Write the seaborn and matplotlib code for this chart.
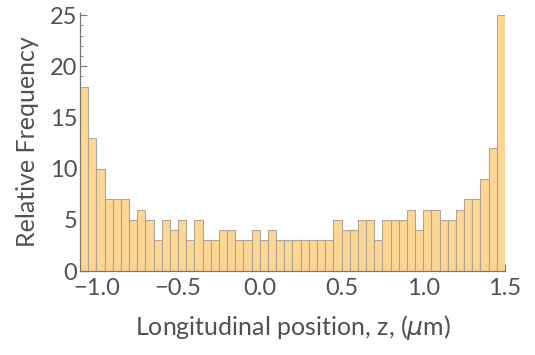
import numpy as np
import pandas as pd
import seaborn as sns
import matplotlib
matplotlib.use("Agg")
import matplotlib.pyplot as plt
from matplotlib.ticker import MultipleLocator

# Data: 52 bins of width 0.05 from -1.1 to 1.5
bin_start = -1.1
bin_end = 1.5
bin_width = 0.05
counts = [18, 13, 10, 7, 7, 7, 5, 6, 5, 3, 5, 4, 5, 3, 5, 3, 3, 4, 4, 3,
          3, 4, 3, 4, 3, 3, 3, 3, 3, 3, 3, 5, 4, 4, 5, 5, 3, 5, 5, 5,
          6, 4, 6, 6, 5, 5, 6, 7, 7, 9, 12, 25]
x_ticks = [-1.0, -0.5, 0.0, 0.5, 1.0, 1.5]
x_tick_labels = ["\u22121.0", "\u22120.5", "0.0", "0.5", "1.0", "1.5"]
y_ticks = [0, 5, 10, 15, 20, 25]

n_bins = len(counts)
centers = bin_start + bin_width * (np.arange(n_bins) + 0.5)
df = pd.DataFrame({"z": centers, "count": counts})

sns.set_theme(style="white")
plt.rcParams['font.family'] = ['Lato', 'DejaVu Sans']
text_color = "#505050"

fig = plt.figure(figsize=(5.35, 3.55), dpi=100)
ax = fig.add_axes([80/535, 84/355, 425/535, (271-13)/355])

sns.histplot(data=df, x="z", weights="count", bins=n_bins,
             binrange=(bin_start, bin_end), ax=ax,
             color="#FDD692", alpha=1.0, edgecolor="#ABA59A", linewidth=0.8)

ax.set_xlim(bin_start, bin_end)
ax.set_ylim(0, 25.2)
ax.set_xticks(x_ticks)
ax.set_xticklabels(x_tick_labels)
ax.set_yticks(y_ticks)
ax.xaxis.set_minor_locator(MultipleLocator(0.1))
ax.yaxis.set_minor_locator(MultipleLocator(1))

for side in ["top", "right"]:
    ax.spines[side].set_visible(False)
for side in ["left", "bottom"]:
    ax.spines[side].set_color("#777777")
    ax.spines[side].set_linewidth(0.9)

ax.tick_params(axis="both", which="major", direction="in", length=5,
               width=0.8, color="#777777", labelsize=17, labelcolor=text_color)
ax.tick_params(axis="x", which="major", pad=5)
ax.tick_params(axis="y", which="major", pad=2)
ax.tick_params(axis="both", which="minor", direction="in", length=2.5,
               width=0.6, color="#777777")
ax.tick_params(axis="x", which="both", bottom=True)
ax.tick_params(axis="y", which="both", left=True)

ax.set_xlabel("Longitudinal position, z, ($\\mathit{\\mu}$m)", fontsize=18,
              color=text_color, labelpad=10)
ax.set_ylabel("Relative Frequency", fontsize=18, color=text_color, labelpad=8)

fig.savefig("out.png", dpi=100)
